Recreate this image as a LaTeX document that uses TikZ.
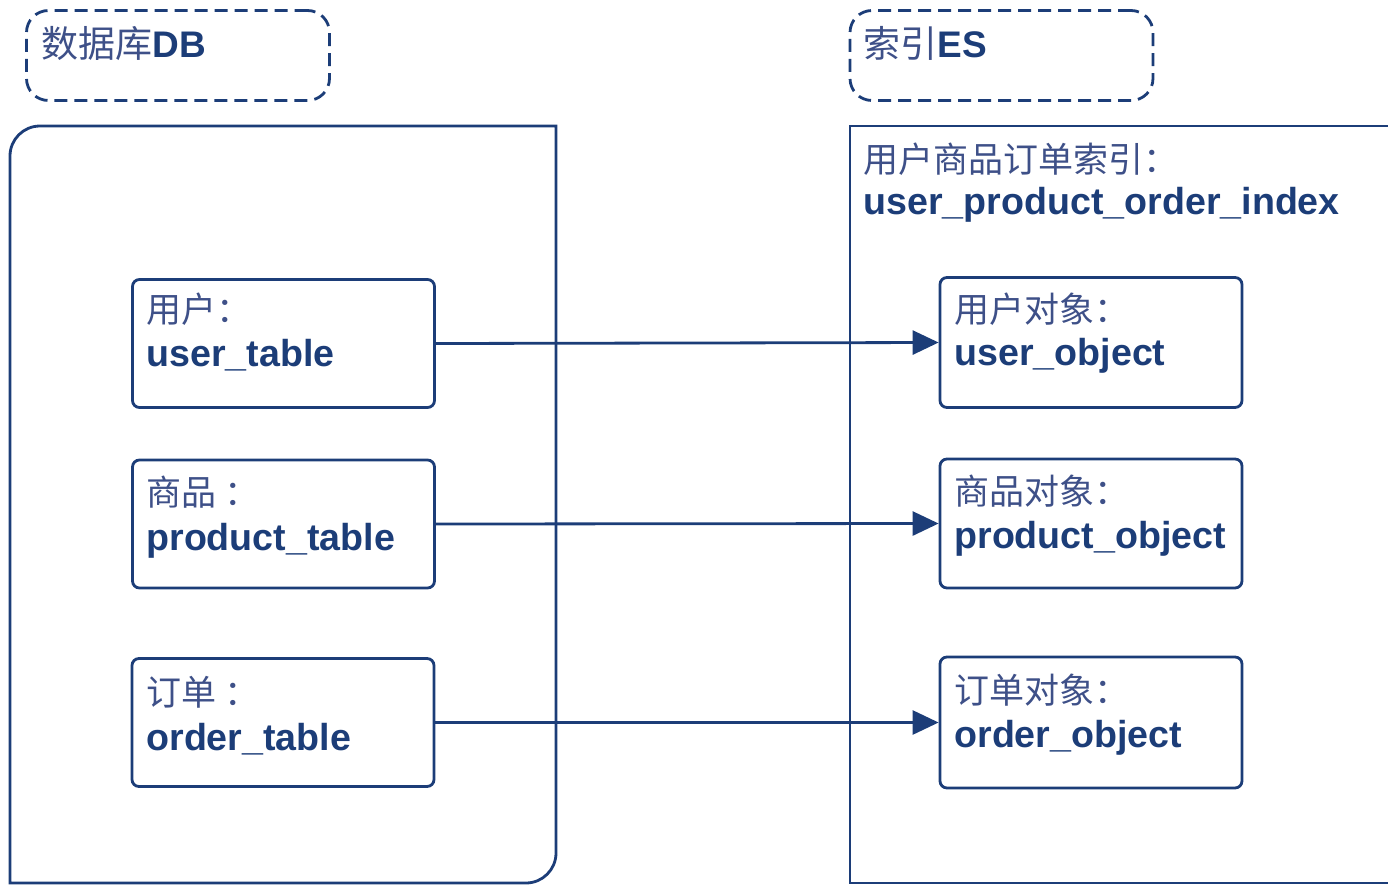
\documentclass[tikz,border=0pt]{standalone}
\usepackage{fontspec}
\setmainfont{Liberation Sans}
\newfontfamily\cjk{Noto Sans CJK SC}
\usetikzlibrary{arrows.meta}
\definecolor{navy}{HTML}{1C3D78}
\definecolor{cjkc}{HTML}{3E5088}
\newcommand\zh[1]{{\mdseries\cjk\color{cjkc}#1}}
\begin{document}
\begin{tikzpicture}[x=1pt,y=-1pt,line width=2.8pt,
  tbl/.style={draw=navy,rectangle,rounded corners=7pt,minimum width=302pt,minimum height=128pt,inner sep=0pt},
  grp/.style={draw=navy,rectangle,rounded corners=22pt,minimum width=303pt,minimum height=90pt,inner sep=0pt,dash pattern=on 13pt off 7pt},
  zhtxt/.style={anchor=base west,inner sep=0pt,text=cjkc,font=\fontsize{35}{40}\selectfont\cjk},
  entxt/.style={anchor=base west,inner sep=0pt,text=navy,font=\fontsize{37.6}{42}\selectfont\bfseries},
  ttl/.style={anchor=base west,inner sep=0pt,text=navy,font=\fontsize{37}{42}\selectfont\bfseries},
  link/.style={draw=navy,line width=2.8pt,-{Triangle[length=26pt,width=24pt]}}]
\useasboundingbox (0,0) rectangle (1388,886);
\clip (0,0) rectangle (1388,886);
% group labels
\node[grp] (dbg) at (178,55.5) {};
\node[grp] (esg) at (1001.5,55.5) {};
\node[ttl] (dbt) at (40,57) {\zh{数据库}DB};
\node[ttl] (est) at (862,57) {\zh{索引}ES};
% containers
\draw[navy] (10,883) -- (10,156) arc[start angle=180,end angle=270,radius=30] -- (556,126) -- (556,853) arc[start angle=0,end angle=90,radius=30] -- cycle;
\draw[navy] (1400,126) -- (850,126) -- (850,883) -- (1400,883);
\node[zhtxt] (esh1) at (862,172) {用户商品订单索引：};
\node[entxt] (esh2) at (862,214) {user\_product\_order\_index};
% left tables
\node[tbl] (ut) at (283.5,343.5) {};
\node[tbl] (pt) at (283.5,524) {};
\node[tbl] (ot) at (283,722.5) {};
\node[zhtxt] (ut1) at (145,322) {用户：};
\node[entxt] (ut2) at (145,366) {user\_table};
\node[zhtxt] (pt1) at (145,505) {商品 ：};
\node[entxt] (pt2) at (145,550) {product\_table};
\node[zhtxt] (ot1) at (145,705) {订单 ：};
\node[entxt] (ot2) at (145,750) {order\_table};
% right objects
\node[tbl,minimum height=130pt] (uo) at (1091,342.5) {};
\node[tbl,minimum height=129pt] (po) at (1091,523.5) {};
\node[tbl,minimum height=131pt] (oo) at (1091,722.5) {};
\node[zhtxt] (uo1) at (953,322) {用户对象：};
\node[entxt] (uo2) at (953,365) {user\_object};
\node[zhtxt] (po1) at (953,504) {商品对象：};
\node[entxt] (po2) at (953,548) {product\_object};
\node[zhtxt] (oo1) at (953,703) {订单对象：};
\node[entxt] (oo2) at (953,747) {order\_object};
% links
\draw[link] (ut.east) -- (uo.west);
\draw[link] (pt.east) -- (po.west);
\draw[link] (ot.east) -- (oo.west);
\end{tikzpicture}
\end{document}
